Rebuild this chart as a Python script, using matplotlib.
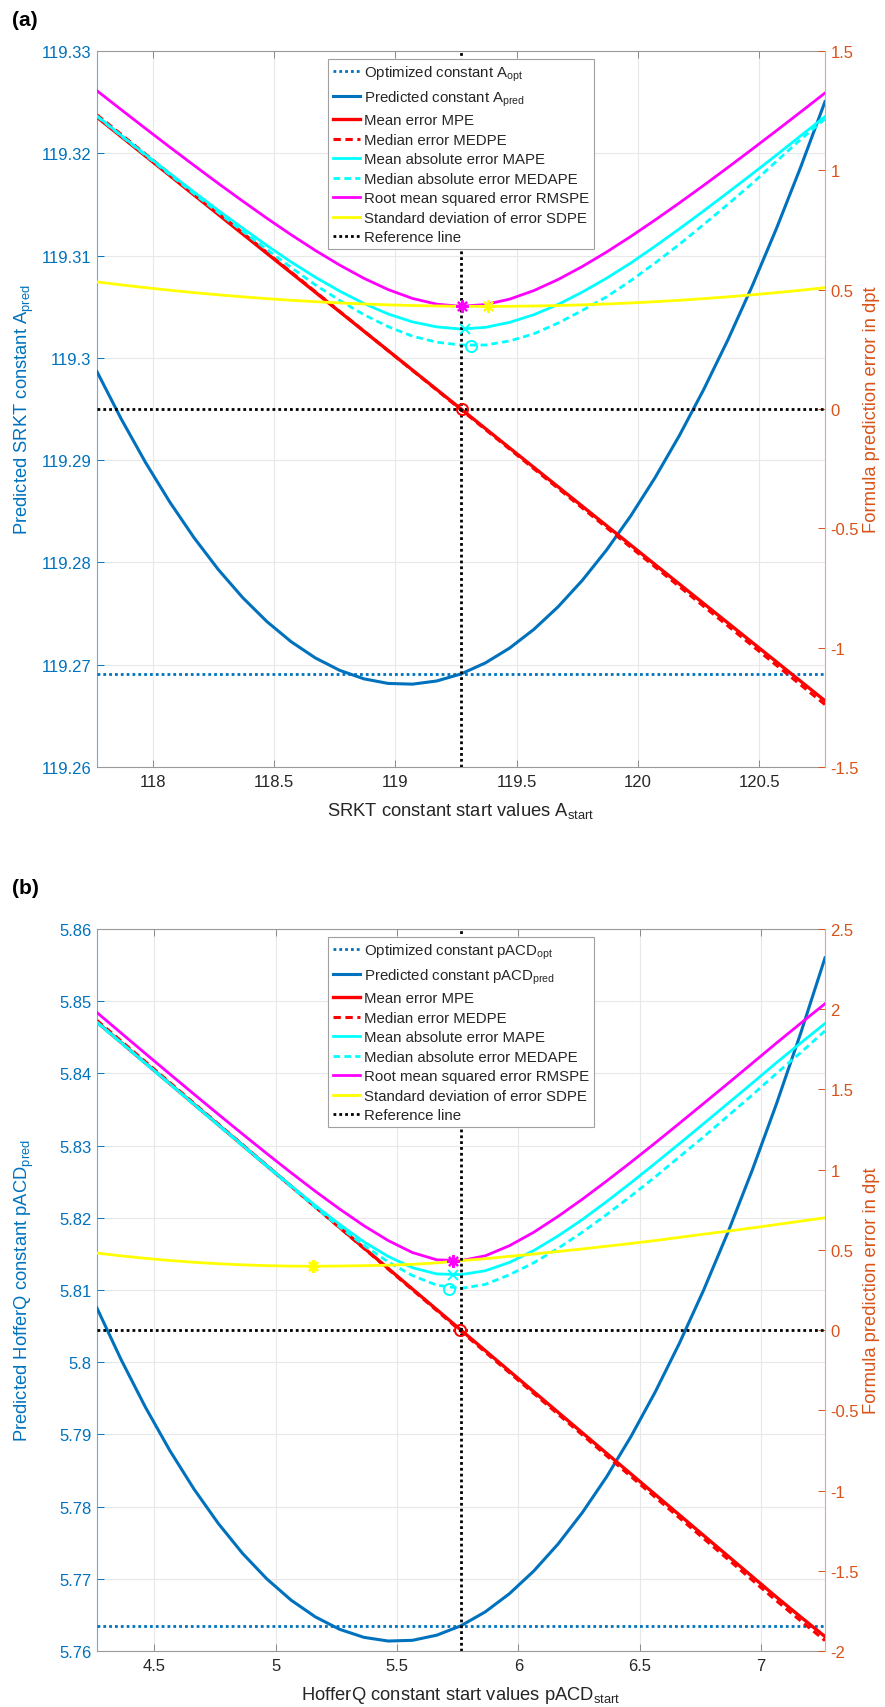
import matplotlib
matplotlib.use('Agg')
import matplotlib.pyplot as plt
from matplotlib.ticker import FixedLocator, FuncFormatter

plt.rcParams['font.family'] = ['Liberation Sans', 'DejaVu Sans']
plt.rcParams['mathtext.fontset'] = 'custom'
plt.rcParams['mathtext.rm'] = 'Liberation Sans'
plt.rcParams['mathtext.it'] = 'Liberation Sans:italic'
plt.rcParams['mathtext.bf'] = 'Liberation Sans:bold'

# ---------------- data: panel (a) SRKT ----------------
x_a = [117.77, 117.87, 117.97, 118.07, 118.17, 118.27, 118.37, 118.47, 118.57, 118.67, 118.77,
       118.87, 118.97, 119.07, 119.17, 119.27, 119.37, 119.47, 119.57, 119.67, 119.77,
       119.87, 119.97, 120.07, 120.17, 120.27, 120.37, 120.47, 120.57, 120.67, 120.77]
ref_a = 119.27
opt_a = 119.2691
apred_a = [119.29865, 119.29402, 119.28977, 119.28590, 119.28241, 119.27930, 119.27657, 119.27422,
           119.27225, 119.27066, 119.26945, 119.26862, 119.26817, 119.26810, 119.26841, 119.26910,
           119.27017, 119.27162, 119.27345, 119.27566, 119.27825, 119.28122, 119.28457, 119.28830,
           119.29241, 119.29690, 119.30177, 119.30702, 119.31265, 119.31866, 119.32505]
mpe_a = [1.2225, 1.1410, 1.0595, 0.9780, 0.8965, 0.8150, 0.7335, 0.6520, 0.5705, 0.4890, 0.4075,
         0.3260, 0.2445, 0.1630, 0.0815, 0.0000, -0.0815, -0.1630, -0.2445, -0.3260, -0.4075,
         -0.4890, -0.5705, -0.6520, -0.7335, -0.8150, -0.8965, -0.9780, -1.0595, -1.1410, -1.2225]
medpe_a = [1.2325, 1.1501, 1.0678, 0.9854, 0.9030, 0.8207, 0.7383, 0.6559, 0.5736, 0.4912, 0.4088,
           0.3265, 0.2441, 0.1617, 0.0794, -0.0030, -0.0854, -0.1677, -0.2501, -0.3325, -0.4148,
           -0.4972, -0.5796, -0.6619, -0.7443, -0.8267, -0.9090, -0.9914, -1.0738, -1.1561, -1.2385]
mape_a = [1.228, 1.146, 1.066, 0.987, 0.909, 0.832, 0.758, 0.685, 0.616, 0.552, 0.494,
          0.442, 0.398, 0.365, 0.344, 0.335, 0.342, 0.363, 0.395, 0.438, 0.490,
          0.548, 0.612, 0.682, 0.755, 0.830, 0.907, 0.985, 1.064, 1.145, 1.225]
medape_a = [1.226, 1.144, 1.063, 0.982, 0.902, 0.823, 0.745, 0.668, 0.593, 0.520, 0.455,
            0.395, 0.345, 0.305, 0.280, 0.268, 0.268, 0.285, 0.315, 0.360, 0.413,
            0.470, 0.538, 0.612, 0.690, 0.773, 0.858, 0.945, 1.038, 1.130, 1.215]
rmspe_a = [1.3334, 1.2539, 1.1752, 1.0973, 1.0206, 0.9450, 0.8712, 0.7993, 0.7301, 0.6642, 0.6030,
           0.5476, 0.5002, 0.4632, 0.4392, 0.4304, 0.4376, 0.4602, 0.4961, 0.5425, 0.5971,
           0.6578, 0.7232, 0.7920, 0.8635, 0.9370, 1.0122, 1.0888, 1.1663, 1.2448, 1.3240]
sdpe_a = [0.5324, 0.5200, 0.5084, 0.4976, 0.4876, 0.4784, 0.4700, 0.4624, 0.4556, 0.4496, 0.4444,
          0.4400, 0.4364, 0.4336, 0.4316, 0.4304, 0.4300, 0.4304, 0.4316, 0.4336, 0.4364,
          0.4400, 0.4444, 0.4496, 0.4556, 0.4624, 0.4700, 0.4784, 0.4876, 0.4976, 0.5084]
# marker points (x, y): MPE zero, MAPE min, MEDAPE min, RMSPE min, SDPE min
mk_x_a = [119.275, 119.285, 119.313, 119.274, 119.382]
mk_y_a = [0.000, 0.335, 0.265, 0.430, 0.430]
xticks_a = [118, 118.5, 119, 119.5, 120, 120.5]
yticksL_a = [119.26, 119.27, 119.28, 119.29, 119.30, 119.31, 119.32, 119.33]
yticksR_a = [-1.5, -1, -0.5, 0, 0.5, 1, 1.5]

# ---------------- data: panel (b) HofferQ ----------------
x_b = [4.264, 4.364, 4.464, 4.564, 4.664, 4.764, 4.864, 4.964, 5.064, 5.164, 5.264,
       5.364, 5.464, 5.564, 5.664, 5.764, 5.864, 5.964, 6.064, 6.164, 6.264,
       6.364, 6.464, 6.564, 6.664, 6.764, 6.864, 6.964, 7.064, 7.164, 7.264]
ref_b = 5.764
opt_b = 5.7635
apred_b = [5.80749, 5.80031, 5.79374, 5.78777, 5.78241, 5.77766, 5.77351, 5.76998, 5.76704, 5.76472,
           5.76300, 5.76189, 5.76138, 5.76148, 5.76219, 5.76350, 5.76542, 5.76795, 5.77108, 5.77482,
           5.77917, 5.78412, 5.78968, 5.79585, 5.80262, 5.81000, 5.81799, 5.82658, 5.83578, 5.84559,
           5.85600]
mpe_b = [1.920, 1.792, 1.664, 1.536, 1.408, 1.280, 1.152, 1.024, 0.896, 0.768, 0.640,
         0.512, 0.384, 0.256, 0.128, 0.000, -0.128, -0.256, -0.384, -0.512, -0.640,
         -0.768, -0.896, -1.024, -1.152, -1.280, -1.408, -1.536, -1.664, -1.788, -1.910]
medpe_b = [1.930, 1.801, 1.672, 1.543, 1.413, 1.284, 1.155, 1.026, 0.897, 0.768, 0.638,
           0.509, 0.380, 0.251, 0.122, -0.008, -0.137, -0.266, -0.395, -0.524, -0.653,
           -0.783, -0.912, -1.041, -1.170, -1.299, -1.428, -1.558, -1.687, -1.812, -1.935]
mape_b = [1.920, 1.792, 1.664, 1.536, 1.408, 1.280, 1.153, 1.025, 0.899, 0.776, 0.659,
          0.550, 0.459, 0.389, 0.350, 0.346, 0.370, 0.422, 0.496, 0.587, 0.689,
          0.801, 0.918, 1.039, 1.162, 1.287, 1.413, 1.539, 1.667, 1.790, 1.911]
medape_b = [1.915, 1.788, 1.660, 1.533, 1.404, 1.276, 1.147, 1.020, 0.893, 0.765, 0.643,
            0.528, 0.425, 0.340, 0.280, 0.260, 0.285, 0.345, 0.420, 0.510, 0.610,
            0.720, 0.835, 0.955, 1.080, 1.205, 1.335, 1.465, 1.600, 1.730, 1.865]
rmspe_b = [1.9791, 1.8508, 1.7231, 1.5962, 1.4701, 1.3452, 1.2217, 1.1000, 0.9807, 0.8650, 0.7545,
           0.6506, 0.5581, 0.4833, 0.4382, 0.4330, 0.4630, 0.5264, 0.6101, 0.7087, 0.8158,
           0.9291, 1.0461, 1.1662, 1.2889, 1.4128, 1.5373, 1.6629, 1.7894, 1.9126, 2.0342]
sdpe_b = [0.480, 0.4626, 0.4473, 0.4340, 0.4228, 0.4137, 0.4067, 0.4017, 0.3988, 0.398, 0.3995,
          0.4015, 0.405, 0.410, 0.419, 0.433, 0.445, 0.460, 0.474, 0.490, 0.506,
          0.523, 0.540, 0.558, 0.578, 0.598, 0.617, 0.637, 0.658, 0.679, 0.700]
mk_x_b = [5.760, 5.730, 5.714, 5.730, 5.155]
mk_y_b = [0.000, 0.343, 0.257, 0.433, 0.398]
xticks_b = [4.5, 5, 5.5, 6, 6.5, 7]
yticksL_b = [5.76, 5.77, 5.78, 5.79, 5.80, 5.81, 5.82, 5.83, 5.84, 5.85, 5.86]
yticksR_b = [-2, -1.5, -1, -0.5, 0, 0.5, 1, 1.5, 2, 2.5]

BLUE = '#0072BD'
ORANGE = '#D95319'
DARK = '#262626'
W, H = 885, 1708

fig = plt.figure(figsize=(W / 100, H / 100), dpi=100)
fmt = FuncFormatter(lambda v, p: '%g' % round(v, 6))

DOT = (0, (1, 1.1))
DASH = (0, (2.4, 1.5))
LW = 2.0


def panel(rect_px, x, ref, opt, apred, mpe, medpe, mape, medape, rmspe, sdpe, mkx, mky,
          xticks, ytl, ytr, ylimL, ylimR, name, xlabel, ylabel, letter, letter_y):
    l, t, r, b = rect_px
    axL = fig.add_axes([l / W, 1 - b / H, (r - l) / W, (b - t) / H])
    axR = axL.twinx()

    h1, = axL.plot(x, [opt] * len(x), color=BLUE, lw=LW, ls=DOT, zorder=3)
    h2, = axL.plot(x, apred, color=BLUE, lw=2.2, zorder=3)

    h3, = axR.plot(x, mpe, color='red', lw=2.4, zorder=3)
    h4, = axR.plot(x, medpe, color='red', lw=2.2, ls=DASH, zorder=3)
    h5, = axR.plot(x, mape, color='cyan', lw=LW, zorder=3)
    h6, = axR.plot(x, medape, color='cyan', lw=LW, ls=DASH, zorder=3)
    h7, = axR.plot(x, rmspe, color='magenta', lw=LW, zorder=3)
    h8, = axR.plot(x, sdpe, color='yellow', lw=LW, zorder=3)
    h9 = axR.axhline(0, color='black', lw=LW, ls=DOT, zorder=4)
    axR.axvline(ref, color='black', lw=LW, ls=DOT, zorder=4)

    # markers at extrema
    axR.plot(mkx[0], mky[0], marker='o', ms=8, mfc='none', mec='red', mew=1.4, zorder=6)
    axR.plot(mkx[1], mky[1], marker='x', ms=7, mec='cyan', mew=1.4, zorder=6)
    axR.plot(mkx[2], mky[2], marker='o', ms=8, mfc='none', mec='cyan', mew=1.4, zorder=6)
    axR.plot(mkx[3], mky[3], marker=(8, 2, 0), ms=9, mec='magenta', mfc='magenta', mew=1.6, zorder=6)
    axR.plot(mkx[4], mky[4], marker=(8, 2, 0), ms=9, mec='yellow', mfc='yellow', mew=1.6, zorder=6)

    axL.set_xlim(x[0], x[-1])
    axL.set_ylim(*ylimL)
    axR.set_ylim(*ylimR)

    axL.xaxis.set_major_locator(FixedLocator(xticks))
    axL.yaxis.set_major_locator(FixedLocator(ytl))
    axR.yaxis.set_major_locator(FixedLocator(ytr))
    axL.xaxis.set_major_formatter(fmt)
    axL.yaxis.set_major_formatter(fmt)
    axR.yaxis.set_major_formatter(fmt)

    axL.grid(True, color='#e8e8e8', lw=0.8, zorder=0)
    axL.set_axisbelow(True)

    axL.tick_params(axis='x', direction='in', top=True, length=5, width=0.7, color='#8a8a8a',
                    labelcolor=DARK, labelsize=12, pad=5)
    axL.tick_params(axis='y', direction='in', length=5, width=0.7, color=BLUE,
                    labelcolor=BLUE, labelsize=12, pad=4)
    axR.tick_params(axis='y', direction='in', length=5, width=0.7, color=ORANGE,
                    labelcolor=ORANGE, labelsize=12, pad=4)

    axL.spines['right'].set_visible(False)
    axL.spines['left'].set_color('#6fa9d6')
    axL.spines['top'].set_color('#9a9a9a')
    axL.spines['bottom'].set_color('#9a9a9a')
    for s in ('left', 'top', 'bottom'):
        axR.spines[s].set_visible(False)
    axR.spines['right'].set_color('#eba383')
    for ax in (axL, axR):
        for s in ax.spines.values():
            s.set_linewidth(0.8)

    labels = ['Optimized constant %s$_{\\mathrm{opt}}$' % name,
              'Predicted constant %s$_{\\mathrm{pred}}$' % name,
              'Mean error MPE', 'Median error MEDPE', 'Mean absolute error MAPE',
              'Median absolute error MEDAPE', 'Root mean squared error RMSPE',
              'Standard deviation of error SDPE', 'Reference line']
    leg = axR.legend([h1, h2, h3, h4, h5, h6, h7, h8, h9], labels, loc='upper center',
                     bbox_to_anchor=(0.5, 1 - 8 / (b - t)), fontsize=10.8, frameon=True,
                     fancybox=False, edgecolor='#a0a0a0', framealpha=1, borderpad=0.3,
                     labelspacing=0.37, handlelength=1.85, handletextpad=0.25,
                     borderaxespad=0)
    leg.get_frame().set_linewidth(0.8)
    for tx in leg.get_texts():
        tx.set_color(DARK)
    leg.set_zorder(10)

    cx = (l + r) / 2 / W
    cy = 1 - (t + b) / 2 / H
    fig.text(cx, 1 - (b + 48) / H, xlabel, ha='center', va='baseline', fontsize=13.2, color=DARK)
    fig.text(24 / W, cy, ylabel, ha='center', va='center', rotation=90, fontsize=13.2, color=BLUE)
    fig.text(872 / W, cy, 'Formula prediction error in dpt', ha='center', va='center',
             rotation=90, fontsize=13.2, color=ORANGE)
    fig.text(12 / W, 1 - letter_y / H, letter, ha='left', va='center', fontsize=15,
             fontweight='bold', color='black')


panel((97, 52, 825, 768), x_a, ref_a, opt_a, apred_a, mpe_a, medpe_a, mape_a, medape_a,
      rmspe_a, sdpe_a, mk_x_a, mk_y_a, xticks_a, yticksL_a, yticksR_a,
      (119.26, 119.33), (-1.5, 1.5), 'A',
      'SRKT constant start values A$_{\\mathrm{start}}$',
      'Predicted SRKT constant A$_{\\mathrm{pred}}$', '(a)', 20)

panel((97, 930, 825, 1652), x_b, ref_b, opt_b, apred_b, mpe_b, medpe_b, mape_b, medape_b,
      rmspe_b, sdpe_b, mk_x_b, mk_y_b, xticks_b, yticksL_b, yticksR_b,
      (5.76, 5.86), (-2, 2.5), 'pACD',
      'HofferQ constant start values pACD$_{\\mathrm{start}}$',
      'Predicted HofferQ constant pACD$_{\\mathrm{pred}}$', '(b)', 889)

fig.savefig('out.png', dpi=100)
